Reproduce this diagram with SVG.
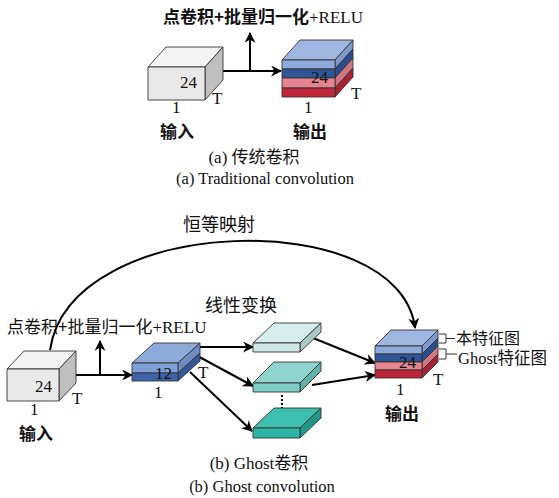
<svg xmlns="http://www.w3.org/2000/svg" width="559" height="498" viewBox="0 0 559 498">
<style>
.f{stroke:#333;stroke-width:0.9;stroke-linejoin:round}
.cn{font-family:"Noto Sans CJK SC",sans-serif;fill:#111}
.se{font-family:"Liberation Serif","Noto Sans CJK SC",serif;fill:#111}
.ln{fill:none;stroke:#000;stroke-width:2}
</style>
<defs>
<marker id="ah2" viewBox="0 0 10 10" refX="9" refY="5" markerWidth="11" markerHeight="11" orient="auto" markerUnits="userSpaceOnUse">
<path d="M0,0 L10,5 L0,10 L3,5 z" fill="#000"/>
</marker>
</defs>
<rect width="559" height="498" fill="#fff"/>

<!-- connectors -->
<g id="connectors">
<path class="ln" d="M223,71 H281" marker-end="url(#ah2)"/>
<path class="ln" d="M250,71 V33" marker-end="url(#ah2)"/>
<path class="ln" d="M50,350 C70,212 400,205 415,328" marker-end="url(#ah2)"/>
<path class="ln" d="M76,375 H132" marker-end="url(#ah2)"/>
<path class="ln" d="M100,375 V341" marker-end="url(#ah2)"/>
<path class="ln" d="M200,347 H253" marker-end="url(#ah2)"/>
<path class="ln" d="M192,353 L253,386" marker-end="url(#ah2)"/>
<path class="ln" d="M190,372 L252,431" marker-end="url(#ah2)"/>
<path class="ln" d="M313,338 L375,363" marker-end="url(#ah2)"/>
<path class="ln" d="M312,385 L375,375" marker-end="url(#ah2)"/>
<path d="M282,395 V418" fill="none" stroke="#000" stroke-width="2" stroke-dasharray="2,2"/>
<path d="M439,334 H446 V343 H439 M446,338.5 H455" fill="none" stroke="#333" stroke-width="1"/>
<path d="M439,349 H446 V359 H439 M446,354 H457" fill="none" stroke="#333" stroke-width="1"/>
</g>

<!-- (a) input cube -->
<g id="a-input">
<polygon class="f" points="148,67 166,47 223,47 205,67" fill="#f3f3f3"/>
<polygon class="f" points="205,67 223,47 223,80 205,100" fill="#bfbfbf"/>
<rect class="f" x="148" y="67" width="57" height="33" fill="#e9e9e9"/>
<text class="se" x="180" y="88" font-size="17">24</text>
<text class="se" x="212" y="104" font-size="17">T</text>
<text class="se" x="172" y="113" font-size="17">1</text>
<text class="cn" x="177" y="138" font-size="17" font-weight="bold" text-anchor="middle">输入</text>
</g>

<!-- (a) output cube -->
<g id="a-output">
<polygon class="f" points="282,60 300,40 353,40 335,60" fill="#9fb6e0"/>
<polygon class="f" points="335,60 353,40 353,49 335,69" fill="#7f99c8"/>
<polygon class="f" points="335,69 353,49 353,58 335,78" fill="#284c8c"/>
<polygon class="f" points="335,78 353,58 353,68 335,88" fill="#cf7681"/>
<polygon class="f" points="335,88 353,68 353,77 335,97" fill="#a82234"/>
<rect class="f" x="282" y="60" width="53" height="9" fill="#8faadc"/>
<rect class="f" x="282" y="69" width="53" height="9" fill="#2f5597"/>
<rect class="f" x="282" y="78" width="53" height="10" fill="#e8848f"/>
<rect class="f" x="282" y="88" width="53" height="9" fill="#c0263a"/>
<text class="se" x="311" y="83" font-size="17">24</text>
<text class="se" x="351" y="99" font-size="17">T</text>
<text class="se" x="304" y="113" font-size="17">1</text>
<text class="cn" x="310" y="138" font-size="17" font-weight="bold" text-anchor="middle">输出</text>
</g>

<g id="a-labels">
<text x="163" y="23" font-size="17"><tspan class="cn" font-weight="bold">点卷积+批量归一化</tspan><tspan class="se">+RELU</tspan></text>
<text x="254" y="163" font-size="17" text-anchor="middle"><tspan class="se">(a) </tspan><tspan class="cn">传统卷积</tspan></text>
<text class="se" x="265" y="184" font-size="16.5" text-anchor="middle">(a) Traditional convolution</text>
</g>

<!-- (b) input cube -->
<g id="b-input">
<polygon class="f" points="7,369 24,351 76,351 59,369" fill="#f3f3f3"/>
<polygon class="f" points="59,369 76,351 76,383 59,401" fill="#bfbfbf"/>
<rect class="f" x="7" y="369" width="52" height="32" fill="#e9e9e9"/>
<text class="se" x="35" y="392" font-size="17">24</text>
<text class="se" x="72" y="404" font-size="17">T</text>
<text class="se" x="30" y="415" font-size="17">1</text>
<text class="cn" x="36" y="440" font-size="17" font-weight="bold" text-anchor="middle">输入</text>
</g>

<!-- (b) 12 block -->
<g id="b-block12">
<polygon class="f" points="132,363 154,343 200,343 178,363" fill="#8eaadb"/>
<polygon class="f" points="178,363 200,343 200,353 178,373" fill="#6f8cc2"/>
<polygon class="f" points="178,373 200,353 200,361 178,381" fill="#34579a"/>
<rect class="f" x="132" y="363" width="46" height="10" fill="#7f9fd7"/>
<rect class="f" x="132" y="373" width="46" height="8" fill="#3f63ab"/>
<text class="se" x="155" y="379" font-size="17">12</text>
<text class="se" x="198" y="378" font-size="17">T</text>
<text class="se" x="154" y="398" font-size="17">1</text>
</g>

<!-- slabs -->
<g id="b-slab1">
<polygon class="f" points="253,343 274,323 321,323 300,343" fill="#d6eeee"/>
<polygon class="f" points="300,343 321,323 321,332 300,352" fill="#a9c8c7"/>
<rect class="f" x="253" y="343" width="47" height="9" fill="#cfe7e7"/>
</g>
<g id="b-slab2">
<polygon class="f" points="253,383 274,362 321,362 300,383" fill="#8fd4cd"/>
<polygon class="f" points="300,383 321,362 321,371 300,392" fill="#5fb1aa"/>
<rect class="f" x="253" y="383" width="47" height="9" fill="#7ecdc5"/>
</g>
<g id="b-slab3">
<polygon class="f" points="253,428 274,408 321,408 300,428" fill="#3cbfaf"/>
<polygon class="f" points="300,428 321,408 321,418 300,438" fill="#1f978a"/>
<rect class="f" x="253" y="428" width="47" height="10" fill="#2bb6a5"/>
</g>

<!-- (b) output -->
<g id="b-output">
<polygon class="f" points="375,346 391,330 438,330 422,346" fill="#9fb6e0"/>
<polygon class="f" points="422,346 438,330 438,338 422,354" fill="#7f99c8"/>
<polygon class="f" points="422,354 438,338 438,346 422,362" fill="#284c8c"/>
<polygon class="f" points="422,362 438,346 438,354 422,370" fill="#cf7681"/>
<polygon class="f" points="422,370 438,354 438,362 422,378" fill="#a82234"/>
<rect class="f" x="375" y="346" width="47" height="8" fill="#8faadc"/>
<rect class="f" x="375" y="354" width="47" height="8" fill="#2f5597"/>
<rect class="f" x="375" y="362" width="47" height="8" fill="#e8848f"/>
<rect class="f" x="375" y="370" width="47" height="8" fill="#c0263a"/>
<text class="se" x="399" y="368" font-size="17">24</text>
<text class="se" x="433" y="385" font-size="17">T</text>
<text class="se" x="396" y="395" font-size="17">1</text>
<text class="cn" x="402" y="420" font-size="17" font-weight="bold" text-anchor="middle">输出</text>
</g>

<g id="b-labels">
<text class="cn" x="183" y="231" font-size="18">恒等映射</text>
<text class="cn" x="205" y="312" font-size="18">线性变换</text>
<text x="7" y="333" font-size="17"><tspan class="cn">点卷积+批量归一化</tspan><tspan class="se">+RELU</tspan></text>
<text class="cn" x="456" y="344" font-size="16">本特征图</text>
<text x="458" y="364" font-size="16.5"><tspan class="se">Ghost</tspan><tspan class="cn">特征图</tspan></text>
<text x="259" y="469" font-size="17" text-anchor="middle"><tspan class="se">(b) Ghost</tspan><tspan class="cn">卷积</tspan></text>
<text class="se" x="262" y="492" font-size="16.5" text-anchor="middle">(b) Ghost convolution</text>
</g>
</svg>
